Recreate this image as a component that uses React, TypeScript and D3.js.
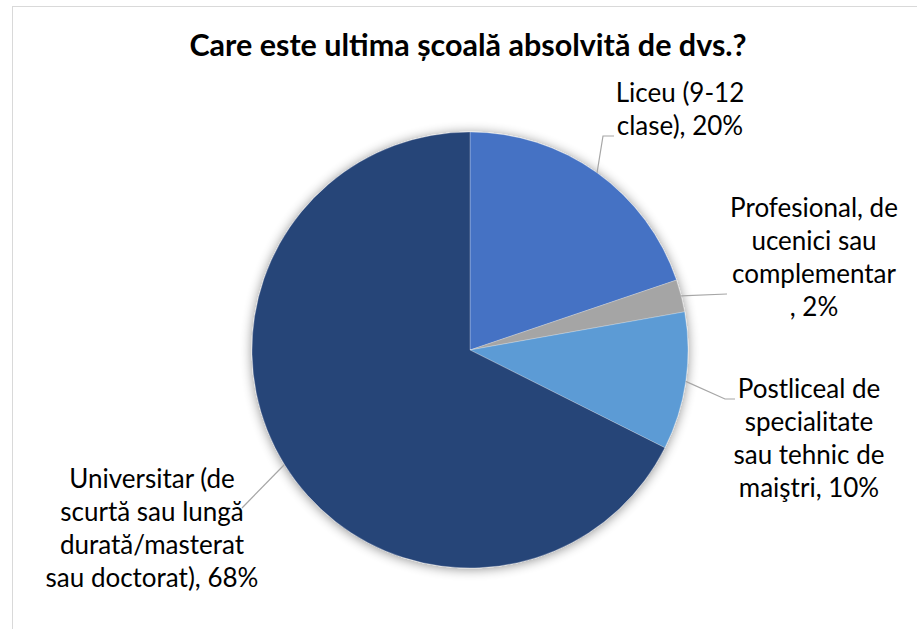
import React from "react";
import * as d3 from "d3";

const categories = [
  "Liceu (9-12 clase)",
  "Profesional, de ucenici sau complementar",
  "Postliceal de specialitate sau tehnic de maiştri",
  "Universitar (de scurtă sau lungă durată/masterat sau doctorat)",
];
const values = [19.8, 2.4, 10.2, 67.6];
const percentLabels = ["20%", "2%", "10%", "68%"];
const labelLines = [
  ["Liceu (9-12", "clase), 20%"],
  ["Profesional, de", "ucenici sau", "complementar", ", 2%"],
  ["Postliceal de", "specialitate", "sau tehnic de", "maiştri, 10%"],
  ["Universitar (de", "scurtă sau lungă", "durată/masterat", "sau doctorat), 68%"],
];
const colors = ["#4472C4", "#A5A5A5", "#5B9BD5", "#264478"];
const title = "Care este ultima școală absolvită de dvs.?";

// layout (not data)
const W = 917, H = 629;
const CX = 470, CY = 350, R = 218;
const labelLayout = [
  { x: 680, y: 102, bend: [[603, 136], [614, 136]] },
  { x: 814, y: 217, bend: [[727, 294]] },
  { x: 809, y: 398, bend: [[725, 399], [735, 399]] },
  { x: 152, y: 488, bend: [[242, 508]] },
];
const LINE_H = 33;
const FONT = "Lato, 'Noto Sans', sans-serif";

export default function App() {
  const pie = d3.pie<number>().sort(null).value((d) => d);
  const arcs = pie(values);
  const arc = d3.arc<d3.PieArcDatum<number>>().innerRadius(0).outerRadius(R);
  return (
    <svg
      width={W}
      height={H}
      style={{ position: "absolute", left: 0, top: 0, background: "#fff" }}
    >
      <defs>
        <filter id="sh" x="-20%" y="-20%" width="140%" height="140%">
          <feGaussianBlur in="SourceAlpha" stdDeviation="6" />
          <feOffset dx="0" dy="1" result="b" />
          <feComponentTransfer>
            <feFuncA type="linear" slope="0.45" />
          </feComponentTransfer>
          <feMerge>
            <feMergeNode />
            <feMergeNode in="SourceGraphic" />
          </feMerge>
        </filter>
      </defs>
      <rect x={0} y={0} width={W} height={H} fill="#fff" />
      <rect x={12.5} y={6.5} width={W} height={H} fill="#fff" stroke="#D9D9D9" strokeWidth={1} />
      <text
        x={468}
        y={56}
        textAnchor="middle"
        fontFamily={FONT}
        fontWeight={700}
        fontSize={30.5}
        fill="#000"
      >
        {title}
      </text>
      <g transform={`translate(${CX},${CY})`} filter="url(#sh)">
        {arcs.map((a, i) => (
          <path key={categories[i]} d={arc(a) || ""} fill={colors[i]} stroke="#ffffff" strokeOpacity={0.35} strokeWidth={0.75} />
        ))}
      </g>
      {arcs.map((a, i) => {
        const mid = (a.startAngle + a.endAngle) / 2;
        const sx = CX + R * Math.sin(mid);
        const sy = CY - R * Math.cos(mid);
        const pts = [[sx, sy], ...labelLayout[i].bend];
        const line = d3.line()(pts as [number, number][]);
        return (
          <path key={"l" + i} d={line || ""} fill="none" stroke="#A6A6A6" strokeWidth={1.2} />
        );
      })}
      {labelLines.map((lines, i) => (
        <text
          key={"t" + i}
          textAnchor="middle"
          fontFamily={FONT}
          fontSize={26}
          fill="#000"
        >
          {lines.map((ln, j) => (
            <tspan key={j} x={labelLayout[i].x} y={labelLayout[i].y + j * LINE_H}>
              {ln}
            </tspan>
          ))}
        </text>
      ))}
    </svg>
  );
}
